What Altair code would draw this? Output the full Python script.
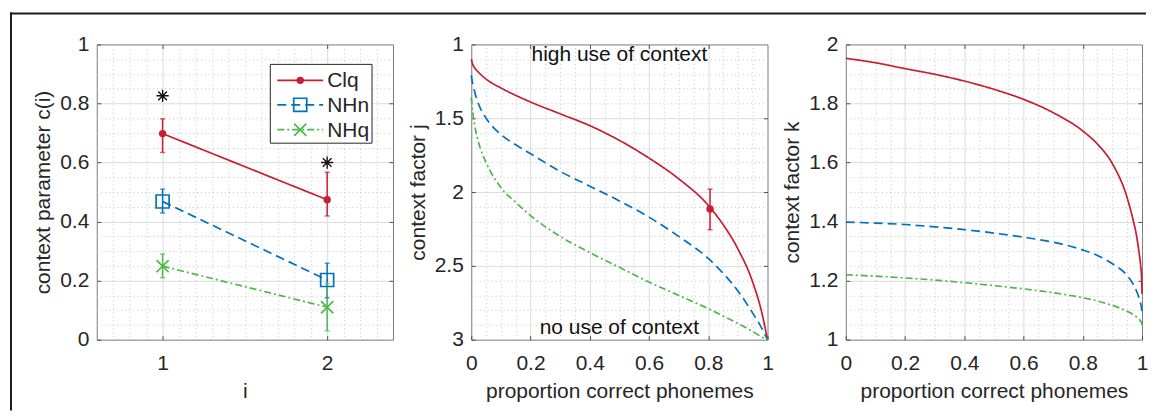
import altair as alt
import pandas as pd

# ---------------- data ----------------
series = ["Clq", "NHn", "NHq"]
colors = ["#c81e32", "#0072bd", "#4db848"]
dashes = [[1, 0], [9, 5], [7, 3, 2, 3]]

# panel 1: context parameter c(i)
i_vals = [1, 2]
c_mean = [[0.698, 0.474], [0.468, 0.202], [0.249, 0.110]]
c_lo = [[0.634, 0.419], [0.429, 0.142], [0.210, 0.030]]
c_hi = [[0.748, 0.567], [0.510, 0.259], [0.290, 0.190]]
star_y = [0.826, 0.600]

# panel 2: context factor j
p2 = [0, 0.005, 0.01, 0.02, 0.03, 0.05, 0.1, 0.15, 0.2, 0.3, 0.4, 0.5,
      0.6, 0.7, 0.8, 0.85, 0.9, 0.95, 0.98, 1.0]
j_clq = [1.10, 1.135, 1.155, 1.18, 1.20, 1.235, 1.295, 1.345, 1.39, 1.47, 1.55,
         1.65, 1.77, 1.91, 2.09, 2.22, 2.385, 2.61, 2.81, 3.0]
j_nhn = [1.21, 1.27, 1.31, 1.38, 1.43, 1.50, 1.61, 1.68, 1.74, 1.86, 1.96,
         2.06, 2.17, 2.30, 2.45, 2.55, 2.67, 2.82, 2.92, 3.0]
j_nhq = [1.36, 1.46, 1.53, 1.63, 1.70, 1.80, 1.97, 2.07, 2.16, 2.30, 2.41,
         2.51, 2.61, 2.70, 2.79, 2.84, 2.89, 2.945, 2.98, 3.0]
fit_p = [0.806]
fit_j = [2.115]
fit_lo = [1.98]
fit_hi = [2.255]
note_text = ["high use of context", "no use of context"]
note_x = [0.5, 0.5]
note_y = [1.113, 2.96]

# panel 3: context factor k
p3 = [0, 0.1, 0.2, 0.3, 0.4, 0.5, 0.6, 0.7, 0.8, 0.85, 0.9, 0.95, 0.97,
      0.98, 0.99, 0.995, 0.999, 1.0]
k_clq = [1.953, 1.938, 1.918, 1.899, 1.876, 1.848, 1.814, 1.769, 1.707, 1.662,
         1.596, 1.48, 1.405, 1.36, 1.295, 1.255, 1.20, 1.155]
k_nhn = [1.398, 1.395, 1.39, 1.382, 1.373, 1.361, 1.347, 1.33, 1.304, 1.285,
         1.257, 1.217, 1.188, 1.168, 1.142, 1.124, 1.101, 1.082]
k_nhq = [1.22, 1.215, 1.209, 1.202, 1.193, 1.183, 1.172, 1.159, 1.142, 1.131,
         1.116, 1.096, 1.085, 1.078, 1.069, 1.063, 1.055, 1.048]

# ---------------- tables ----------------
rows1 = []
for s, m, lo, hi in zip(series, c_mean, c_lo, c_hi):
    for k, i in enumerate(i_vals):
        rows1.append({"s": s, "i": i, "c": m[k], "lo": lo[k], "hi": hi[k]})
df1 = pd.DataFrame(rows1)
df_star = pd.DataFrame({"i": i_vals, "c": star_y})

df2 = pd.DataFrame([{"s": s, "p": p, "j": v}
                    for s, ys in zip(series, [j_clq, j_nhn, j_nhq])
                    for p, v in zip(p2, ys)])
df_fit = pd.DataFrame({"p": fit_p, "j": fit_j, "lo": fit_lo, "hi": fit_hi})
df_note = pd.DataFrame({"p": note_x, "j": note_y, "t": note_text})

df3 = pd.DataFrame([{"s": s, "p": p, "k": v}
                    for s, ys in zip(series, [k_clq, k_nhn, k_nhq])
                    for p, v in zip(p3, ys)])
one = pd.DataFrame({"a": [0]})

# ---------------- style ----------------
W, H = 297, 296
TXT = "#262626"
GRID = "#dcdcdc"
MINOR = "#c4c4c4"
TICK = "#4d4d4d"
FS = 21
X_PATH = "M-1,-1L1,1M-1,1L1,-1"
STAR_PATH = "M-1,0L1,0M0,-1L0,1M-0.71,-0.71L0.71,0.71M-0.71,0.71L0.71,-0.71"
shapes = ["circle", "square", X_PATH]
sizes = [55, 170, 150]
filled = [True, False, False]

color_enc = alt.Color("s:N", scale=alt.Scale(domain=series, range=colors), legend=None)
dash_enc = alt.StrokeDash("s:N", scale=alt.Scale(domain=series, range=dashes), legend=None)


def sc(dom, rev=False):
    return alt.Scale(domain=dom, nice=False, zero=False, reverse=rev)


def steps(a, b, step):
    n = int(round((b - a) / step))
    return [round(a + step * k, 4) for k in range(n + 1)]


def carriers(df, xf, yf, xs, ys, xmaj, ymaj, xmin, ymin, xtitle, ytitle, xfmt, yfmt):
    base = alt.Chart(df).mark_point(opacity=0)
    xin = [v for v in xmaj if v not in (xs.domain[0], xs.domain[1])]
    yin = [v for v in ymaj if v not in (ys.domain[0], ys.domain[1])]
    xmn = [v for v in xmin if v not in xmaj and v not in (xs.domain[0], xs.domain[1])]
    ymn = [v for v in ymin if v not in ymaj and v not in (ys.domain[0], ys.domain[1])]
    common = dict(labelFontSize=FS, labelColor=TXT, titleFontSize=FS, titleColor=TXT,
                  titleFontWeight="normal", tickColor=TICK, tickWidth=1, tickSize=4,
                  offset=-4, domain=False, labelFlush=False, grid=False)
    ticks = dict(tickColor=TICK, tickWidth=1, tickSize=4, offset=-4, domain=False,
                 labels=False, title=None)
    minor = base.encode(
        x=alt.X(xf, scale=xs, axis=alt.Axis(orient="bottom", values=xmn, labels=False, ticks=False,
                                            domain=False, title=None, grid=True, gridColor=MINOR,
                                            gridDash=[1, 3], gridWidth=1)),
        y=alt.Y(yf, scale=ys, axis=alt.Axis(orient="left", values=ymn, labels=False, ticks=False,
                                            domain=False, title=None, grid=True, gridColor=MINOR,
                                            gridDash=[1, 3], gridWidth=1)))
    opp = base.encode(
        x=alt.X(xf, scale=xs, axis=alt.Axis(orient="top", values=xin, grid=True, gridColor=GRID,
                                            gridWidth=1, **ticks)),
        y=alt.Y(yf, scale=ys, axis=alt.Axis(orient="right", values=yin, grid=True, gridColor=GRID,
                                            gridWidth=1, **ticks)))
    main = base.encode(
        x=alt.X(xf, scale=xs, axis=alt.Axis(orient="bottom", values=xmaj, format=xfmt, title=xtitle,
                                            labelPadding=13, titlePadding=7, **common)),
        y=alt.Y(yf, scale=ys, axis=alt.Axis(orient="left", values=ymaj, format=yfmt, title=ytitle,
                                            labelPadding=8, titlePadding=6, **common)))
    return [minor, opp, main]


# ---------------- panel 1 ----------------
xs1, ys1 = sc([0.6, 2.4]), sc([0, 1])
X1 = alt.X("i:Q", scale=xs1, axis=None)
layers1 = carriers(df1, "i:Q", "c:Q", xs1, ys1, [1, 2], steps(0, 1, 0.2),
                   steps(0.6, 2.4, 0.1), steps(0, 1, 0.05), "i", "context parameter c(i)", "d", "~g")

b1 = alt.Chart(df1)
layers1.append(b1.mark_rule(strokeWidth=1.5).encode(
    x=X1, y=alt.Y("lo:Q", scale=ys1, axis=None), y2="hi:Q", color=color_enc))
for f in ["lo", "hi"]:
    layers1.append(b1.mark_tick(orient="horizontal", size=5, thickness=1.5).encode(
        x=X1, y=alt.Y(f + ":Q", scale=ys1, axis=None), color=color_enc))
layers1.append(b1.mark_line(strokeWidth=1.7).encode(
    x=X1, y=alt.Y("c:Q", scale=ys1, axis=None), color=color_enc, strokeDash=dash_enc))
for k, s in enumerate(series):
    layers1.append(b1.transform_filter(alt.datum.s == s).mark_point(
        shape=shapes[k], size=sizes[k], filled=filled[k], color=colors[k], strokeWidth=1.7,
        opacity=1).encode(x=X1, y=alt.Y("c:Q", scale=ys1, axis=None)))
layers1.append(alt.Chart(df_star).mark_point(
    shape=STAR_PATH, size=150, filled=False, color="#111111", strokeWidth=1.4, opacity=1).encode(
    x=X1, y=alt.Y("c:Q", scale=ys1, axis=None)))

# legend (decoration, pixel placement inside panel 1)
ob = alt.Chart(one)
leg_y = [36, 60.5, 85.5]
layers1.append(ob.mark_rect(fill="white", stroke=TXT, strokeWidth=1).encode(
    x=alt.value(174), x2=alt.value(276), y=alt.value(20), y2=alt.value(99)))
for k, s in enumerate(series):
    layers1.append(ob.mark_rule(color=colors[k], strokeWidth=1.7, strokeDash=dashes[k]).encode(
        x=alt.value(181), x2=alt.value(227), y=alt.value(leg_y[k])))
    layers1.append(ob.mark_point(shape=shapes[k], size=sizes[k], filled=filled[k], color=colors[k],
                                 strokeWidth=1.7, opacity=1).encode(
        x=alt.value(204), y=alt.value(leg_y[k])))
    layers1.append(ob.mark_text(text=s, align="left", baseline="middle", fontSize=FS, color=TXT).encode(
        x=alt.value(231), y=alt.value(leg_y[k] + 1)))

# outer frame of the figure (top and left border lines)
layers1.append(ob.mark_rule(color="#1a1a1a", strokeWidth=2).encode(
    x=alt.value(-86), y=alt.value(-32), y2=alt.value(367)))
layers1.append(ob.mark_rule(color="#1a1a1a", strokeWidth=2).encode(
    x=alt.value(-87), x2=alt.value(1052), y=alt.value(-31)))

p1 = alt.layer(*layers1).resolve_axis(x="independent", y="independent").properties(width=W, height=H)

# ---------------- panel 2 ----------------
xs2, ys2 = sc([0, 1]), sc([1, 3], rev=True)
X2 = alt.X("p:Q", scale=xs2, axis=None)
layers2 = carriers(df2, "p:Q", "j:Q", xs2, ys2, steps(0, 1, 0.2), steps(1, 3, 0.5),
                   steps(0, 1, 0.05), steps(1, 3, 0.1), "proportion correct phonemes",
                   "context factor j", "~g", "~g")
layers2.append(alt.Chart(df2).mark_line(strokeWidth=1.7, interpolate="monotone").encode(
    x=X2, y=alt.Y("j:Q", scale=ys2, axis=None), color=color_enc, strokeDash=dash_enc))
bf = alt.Chart(df_fit)
layers2.append(bf.mark_rule(strokeWidth=1.5, color=colors[0]).encode(
    x=X2, y=alt.Y("lo:Q", scale=ys2, axis=None), y2="hi:Q"))
for f in ["lo", "hi"]:
    layers2.append(bf.mark_tick(orient="horizontal", size=5, thickness=1.5, color=colors[0]).encode(
        x=X2, y=alt.Y(f + ":Q", scale=ys2, axis=None)))
layers2.append(bf.mark_point(shape="circle", size=55, filled=True, color=colors[0], opacity=1).encode(
    x=X2, y=alt.Y("j:Q", scale=ys2, axis=None)))
layers2.append(alt.Chart(df_note).mark_text(fontSize=FS, color="#111111", align="center",
                                            baseline="alphabetic").encode(
    x=X2, y=alt.Y("j:Q", scale=ys2, axis=None), text="t:N"))
p2c = alt.layer(*layers2).resolve_axis(x="independent", y="independent").properties(width=W, height=H)

# ---------------- panel 3 ----------------
xs3, ys3 = sc([0, 1]), sc([1, 2])
X3 = alt.X("p:Q", scale=xs3, axis=None)
layers3 = carriers(df3, "p:Q", "k:Q", xs3, ys3, steps(0, 1, 0.2), steps(1, 2, 0.2),
                   steps(0, 1, 0.05), steps(1, 2, 0.05), "proportion correct phonemes",
                   "context factor k", "~g", "~g")
layers3.append(alt.Chart(df3).mark_line(strokeWidth=1.7, interpolate="monotone").encode(
    x=X3, y=alt.Y("k:Q", scale=ys3, axis=None), color=color_enc, strokeDash=dash_enc))
p3c = alt.layer(*layers3).resolve_axis(x="independent", y="independent").properties(width=W, height=H)

chart = alt.hconcat(p1, p2c, p3c, spacing=78.5, bounds="flush").properties(
    padding={"left": 0, "top": 2, "right": 0, "bottom": 0}
).configure(font="Liberation Sans").configure_view(stroke="#7a7a7a", strokeWidth=1)

chart.save("out.html", embed_options={"renderer": "svg", "actions": False})
